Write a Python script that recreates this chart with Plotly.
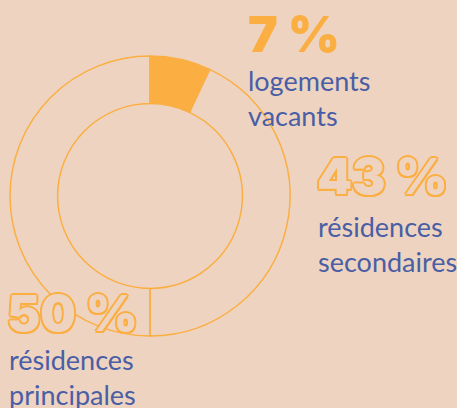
import plotly.graph_objects as go

categories = ["logements vacants", "résidences secondaires", "résidences principales"]
category_labels = ["logements<br>vacants", "résidences<br>secondaires", "résidences<br>principales"]
values = [7, 43, 50]
pct_labels = ["7 %", "43 %", "50 %"]

BG = "#EED4C0"
ORANGE = "#FBAE42"
BLUE = "#4A5EA6"

W, H = 457, 408

fig = go.Figure()
fig.add_trace(go.Pie(
    labels=categories,
    values=values,
    sort=False,
    direction="clockwise",
    rotation=0,
    hole=0.66,
    textinfo="none",
    hoverinfo="none",
    showlegend=False,
    marker=dict(colors=[ORANGE, "rgba(0,0,0,0)", "rgba(0,0,0,0)"],
                line=dict(color=ORANGE, width=1.5)),
    domain=dict(x=[10 / W, 290 / W], y=[(H - 336) / H, (H - 56) / H]),
))

outline = ", ".join(f"{dx}px {dy}px 0 {ORANGE}" for dx, dy in
                    [(-2, 0), (2, 0), (0, -2), (0, 2), (-1.5, -1.5), (1.5, -1.5), (-1.5, 1.5), (1.5, 1.5)])

# (x_left_px, y_center_px) for percentage labels and category labels
pct_pos = [(246, 34), (315, 176), (5, 313)]
cat_pos = [(246, 98), (316, 244), (7, 377)]
pct_styles = [
    dict(color=ORANGE),
    dict(color=BG, shadow=outline),
    dict(color=BG, shadow=outline),
]

for i in range(len(values)):
    px, py = pct_pos[i]
    fig.add_annotation(
        x=px / W, y=1 - py / H, xref="paper", yref="paper",
        xanchor="left", yanchor="middle", showarrow=False,
        text=pct_labels[i],
        font=dict(family="Inter", size=50, weight=900, **pct_styles[i]),
    )
    cx, cy = cat_pos[i]
    fig.add_annotation(
        x=cx / W, y=1 - cy / H, xref="paper", yref="paper",
        xanchor="left", yanchor="middle", align="left", showarrow=False,
        text=category_labels[i],
        font=dict(family="Lato", size=27, color=BLUE),
    )

fig.update_layout(
    width=W, height=H,
    margin=dict(l=0, r=0, t=0, b=0),
    paper_bgcolor=BG, plot_bgcolor=BG,
)

fig.write_html("out.html")
